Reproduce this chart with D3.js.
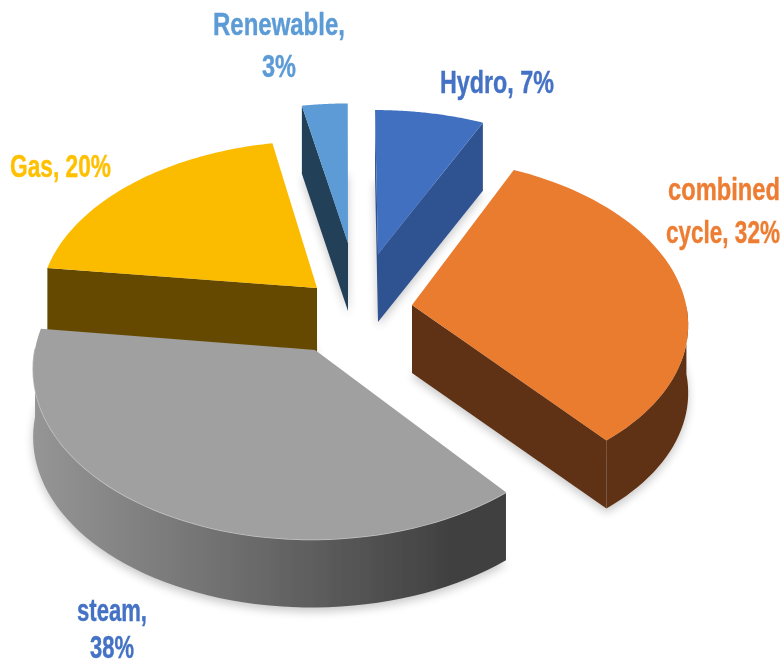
<!DOCTYPE html>
<html>
<head>
<meta charset="utf-8">
<script src="https://cdn.jsdelivr.net/npm/d3@7"></script>
<style>
  html, body { margin: 0; background: #fff; }
  text { font-family: "Liberation Sans", Arial, sans-serif; font-weight: 700; font-size: 32px; }
</style>
</head>
<body>
<svg width="783" height="665"></svg>
<script>
var categories = ["Hydro", "combined cycle", "steam", "Gas", "Renewable"];
var shares = [7, 32, 38, 20, 3];
var explodeU = [0.1223, 0.2407, -0.105, -0.1016, 0.0112];
var explodeV = [-0.379, -0.0602, 0.205, -0.164, -0.4505];
var radius = [1.02, 0.985, 0.98, 1, 1];

var topColors = ["#3f6fbf", "#e97b2f", "#a0a0a0", "#fbbc04", "#5b9bd5"];
var sideColors = ["#2f5290", "#5f3012", "#454545", "#654a00", "#213f58"];

// label lines: text, left x, right x, baseline
var labelColors = ["#4472c4", "#ed7d31", "#4472c4", "#ffc000", "#5b9bd5"];
var labelLines = [
    [["Hydro, 7%", 440, 554, 93]],
    [["combined", 668, 780, 200], ["cycle, 32%", 666, 780, 243]],
    [["steam,", 77, 147, 621], ["38%", 90, 134, 658]],
    [["Gas, 20%", 10, 111, 177]],
    [["Renewable,", 213, 345, 35], ["3%", 262, 296, 77]]
];

var cx = 345, cy = 315, rx = 280, ry = 167, depth = 68, persp = 0.1;

var svg = d3.select("svg");
var defs = svg.append("defs");

var soft = defs.append("filter").attr("id", "soft").attr("x", "-5%").attr("y", "-5%").attr("width", "110%").attr("height", "110%");
soft.append("feGaussianBlur").attr("stdDeviation", 0.6);

var shadow = defs.append("filter").attr("id", "shadow").attr("x", "-10%").attr("y", "-10%").attr("width", "120%").attr("height", "120%");
shadow.append("feGaussianBlur").attr("stdDeviation", 5);

var wallGrad = defs.append("linearGradient").attr("id", "steamWall")
    .attr("gradientUnits", "userSpaceOnUse")
    .attr("x1", 30).attr("x2", 505).attr("y1", 0).attr("y2", 0);
wallGrad.append("stop").attr("offset", "0%").attr("stop-color", "#969696");
wallGrad.append("stop").attr("offset", "45%").attr("stop-color", "#6c6c6c");
wallGrad.append("stop").attr("offset", "90%").attr("stop-color", "#3f3f3f");

var project = function(u, v, z) {
    var s = 1 / (1 - persp * v);
    return [cx + u * rx * s, cy + v * ry * s + z * depth];
};

var pie = d3.pie().sort(null).value(function(d) { return d; });
var arcs = pie(shares);

var line = d3.line();

var slices = arcs.map(function(a, i) {
    var ox = explodeU[i];
    var oy = explodeV[i];
    var rim = function(t) { return [ox + radius[i] * Math.sin(t), oy - radius[i] * Math.cos(t)]; };
    var angles = d3.range(0, 61).map(function(k) {
        return a.startAngle + (a.endAngle - a.startAngle) * k / 60;
    });
    return { index: i, ox: ox, oy: oy, rim: rim, angles: angles };
});

var paintOrder = [4, 0, 3, 1, 2];
var chart = svg.append("g").attr("filter", "url(#soft)");

// outline of a slice including its extrusion, used for the faint shadow
var shadowLayer = chart.append("g").attr("filter", "url(#shadow)").attr("opacity", 0.22);

paintOrder.forEach(function(i) {
    var sl = slices[i];
    var g = chart.append("g");
    var apexTop = project(sl.ox, sl.oy, 0);
    var apexBot = project(sl.ox, sl.oy, 1);
    var rimTop = sl.angles.map(function(t) { var p = sl.rim(t); return project(p[0], p[1], 0); });
    var rimBot = sl.angles.map(function(t) { var p = sl.rim(t); return project(p[0], p[1], 1); });

    shadowLayer.append("path")
        .attr("d", line([apexBot].concat(rimBot)) + "Z")
        .attr("transform", "translate(0,4)")
        .attr("fill", "#000");

    // cut faces, keep only those turned to the viewer
    var faces = [
        [apexTop, rimTop[0], rimBot[0], apexBot],
        [apexTop, apexBot, rimBot[60], rimTop[60]]
    ];
    faces.forEach(function(f) {
        if (d3.polygonArea(f) > 0) {
            g.append("path").attr("d", line(f) + "Z").attr("fill", sideColors[i]);
        }
    });

    // outer wall: only the stretch of the rim that faces front
    var wallAngles = sl.angles.filter(function(t) { return Math.cos(t) < 0.02; });
    if (wallAngles.length > 1) {
        var wallTop = wallAngles.map(function(t) { var p = sl.rim(t); return project(p[0], p[1], 0); });
        var wallBot = wallAngles.map(function(t) { var p = sl.rim(t); return project(p[0], p[1], 1); }).reverse();
        g.append("path")
            .attr("d", line(wallTop.concat(wallBot)) + "Z")
            .attr("fill", categories[i] === "steam" ? "url(#steamWall)" : sideColors[i]);
        if (categories[i] === "steam") {
            g.append("path")
                .attr("d", line(wallTop))
                .attr("fill", "none")
                .attr("stroke", "#c4c4c4")
                .attr("stroke-width", 1.5);
        }
    }

    g.append("path")
        .attr("d", line([apexTop].concat(rimTop)) + "Z")
        .attr("fill", topColors[i]);
});

var labels = svg.append("g").attr("filter", "url(#soft)");
labelLines.forEach(function(lines, i) {
    lines.forEach(function(l) {
        var t = labels.append("text")
            .attr("fill", labelColors[i])
            .attr("stroke", labelColors[i])
            .attr("stroke-width", 0.4)
            .text(l[0]);
        var natural = t.node().getComputedTextLength();
        t.attr("transform", "translate(" + l[1] + "," + l[3] + ") scale(" + ((l[2] - l[1]) / natural) + ",1)");
    });
});
</script>
</body>
</html>
